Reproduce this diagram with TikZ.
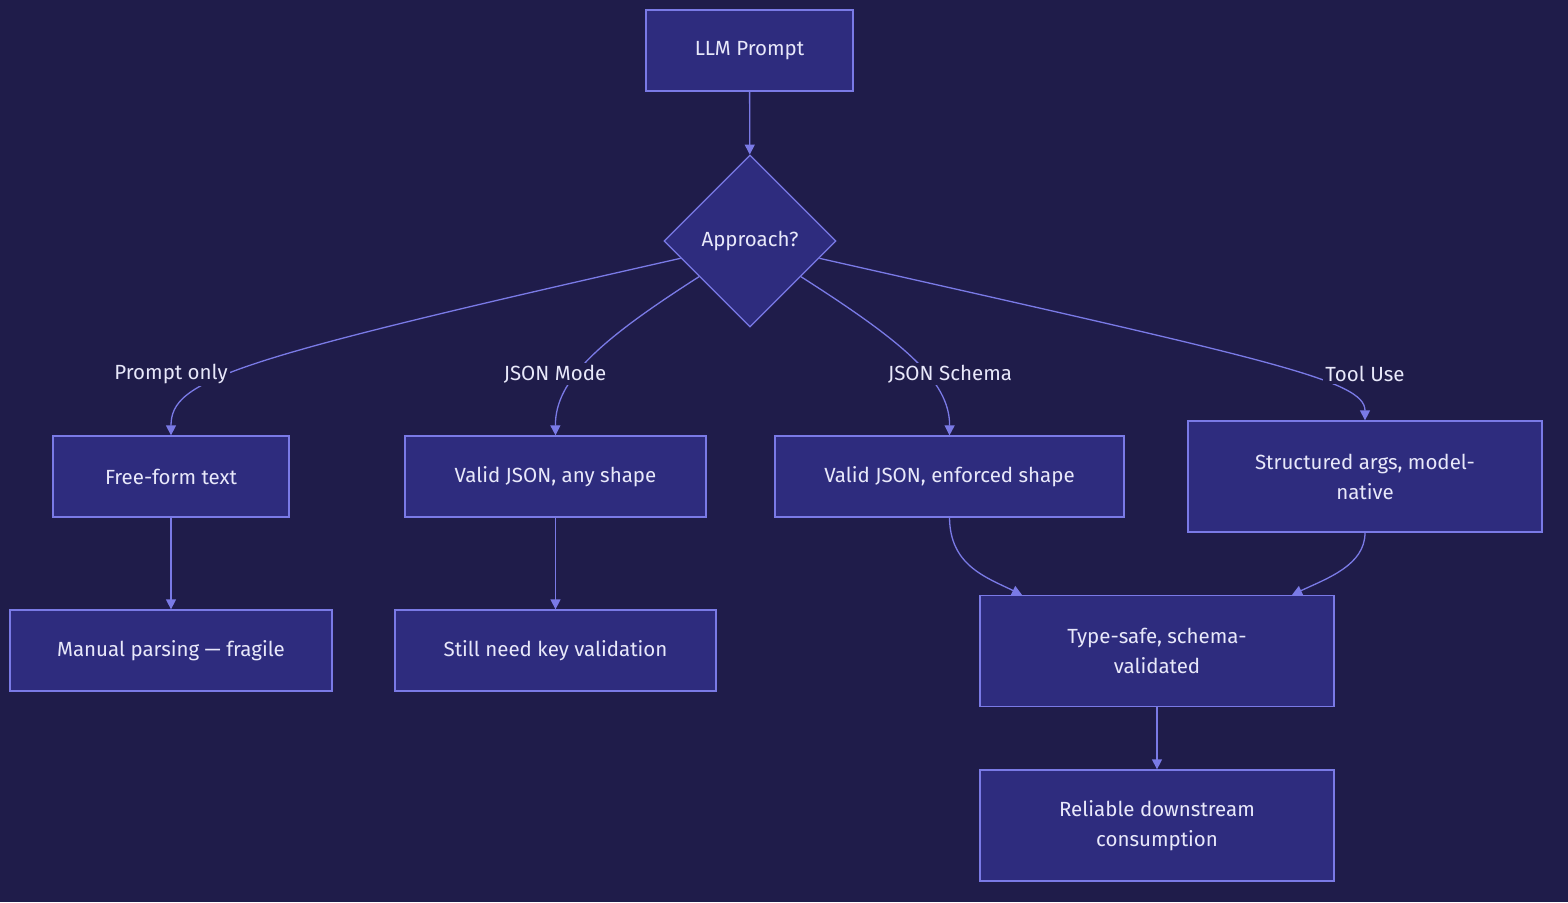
\documentclass[tikz,border=0pt]{standalone}
\usepackage{fontspec}
\setmainfont{Fira Sans}
\usetikzlibrary{shapes.geometric,arrows.meta}
\definecolor{bgc}{RGB}{31,28,74}
\definecolor{boxc}{RGB}{46,44,126}
\definecolor{linec}{RGB}{122,122,230}
\definecolor{txtc}{RGB}{232,232,250}
\tikzset{
  box/.style={draw=linec, fill=boxc, line width=1.3pt, text=txtc, align=center,
    inner sep=0pt, font=\fontsize{20.5}{30}\selectfont},
  dia/.style={draw=linec, fill=boxc, line width=1.3pt, text=txtc, shape=diamond,
    minimum width=172pt, minimum height=172pt, inner sep=0pt, font=\fontsize{20.5}{30}\selectfont},
  lbl/.style={fill=bgc, text=txtc, inner sep=2pt, font=\fontsize{20.5}{30}\selectfont},
  edge/.style={draw=linec, line width=1.3pt, -{Triangle[length=10pt,width=10pt]}},
}
\begin{document}
\begin{tikzpicture}[x=1pt,y=-1pt]
\fill[bgc] (0,0) rectangle (1568,902);
\useasboundingbox (0,0) rectangle (1568,902);
\node[box, minimum width=207pt, minimum height=81pt] (p) at (749.5,50.5) {LLM Prompt};
\node[dia] (d) at (750,241) {Approach?};
\node[box, minimum width=236pt, minimum height=81pt] (b1) at (171,476.5) {Free-form text};
\node[box, minimum width=301pt, minimum height=81pt] (b2) at (555.5,476.5) {Valid JSON, any shape};
\node[box, minimum width=349pt, minimum height=81pt] (b3) at (949.5,476.5) {Valid JSON, enforced shape};
\node[box, minimum width=354pt, minimum height=111pt] (b4) at (1365,476.5) {Structured args, model-\\native};
\node[box, minimum width=322pt, minimum height=81pt] (c1) at (171,650.5) {Manual parsing — fragile};
\node[box, minimum width=321pt, minimum height=81pt] (c2) at (555.5,650.5) {Still need key validation};
\node[box, minimum width=354pt, minimum height=111pt] (c3) at (1157,651) {Type-safe, schema-\\validated};
\node[box, minimum width=354pt, minimum height=111pt] (e) at (1157,825.5) {Reliable downstream\\consumption};

\draw[edge] (p) -- (d);
\draw[edge] (d.194) .. controls (230,360) and (171,380) .. (b1.north);
\draw[edge] (d.215) .. controls (600,340) and (555,380) .. (b2.north);
\draw[edge] (d.-35) .. controls (900,340) and (950,380) .. (b3.north);
\draw[edge] (d.-14) .. controls (1270,360) and (1365,380) .. (b4.north);
\draw[edge] (b1) -- (c1);
\draw[edge] (b2) -- (c2);
\draw[edge] (b3.south) .. controls (950,565) and (985,577) .. ([xshift=-135pt]c3.north);
\draw[edge] (b4.south) .. controls (1365,565) and (1328,578) .. ([xshift=135pt]c3.north);
\draw[edge] (c3) -- (e);

\node[lbl] (l1) at (171,374) {Prompt only};
\node[lbl] (l2) at (555,374) {JSON Mode};
\node[lbl] (l3) at (950,374) {JSON Schema};
\node[lbl] (l4) at (1365,374) {Tool Use};
\end{tikzpicture}
\end{document}
